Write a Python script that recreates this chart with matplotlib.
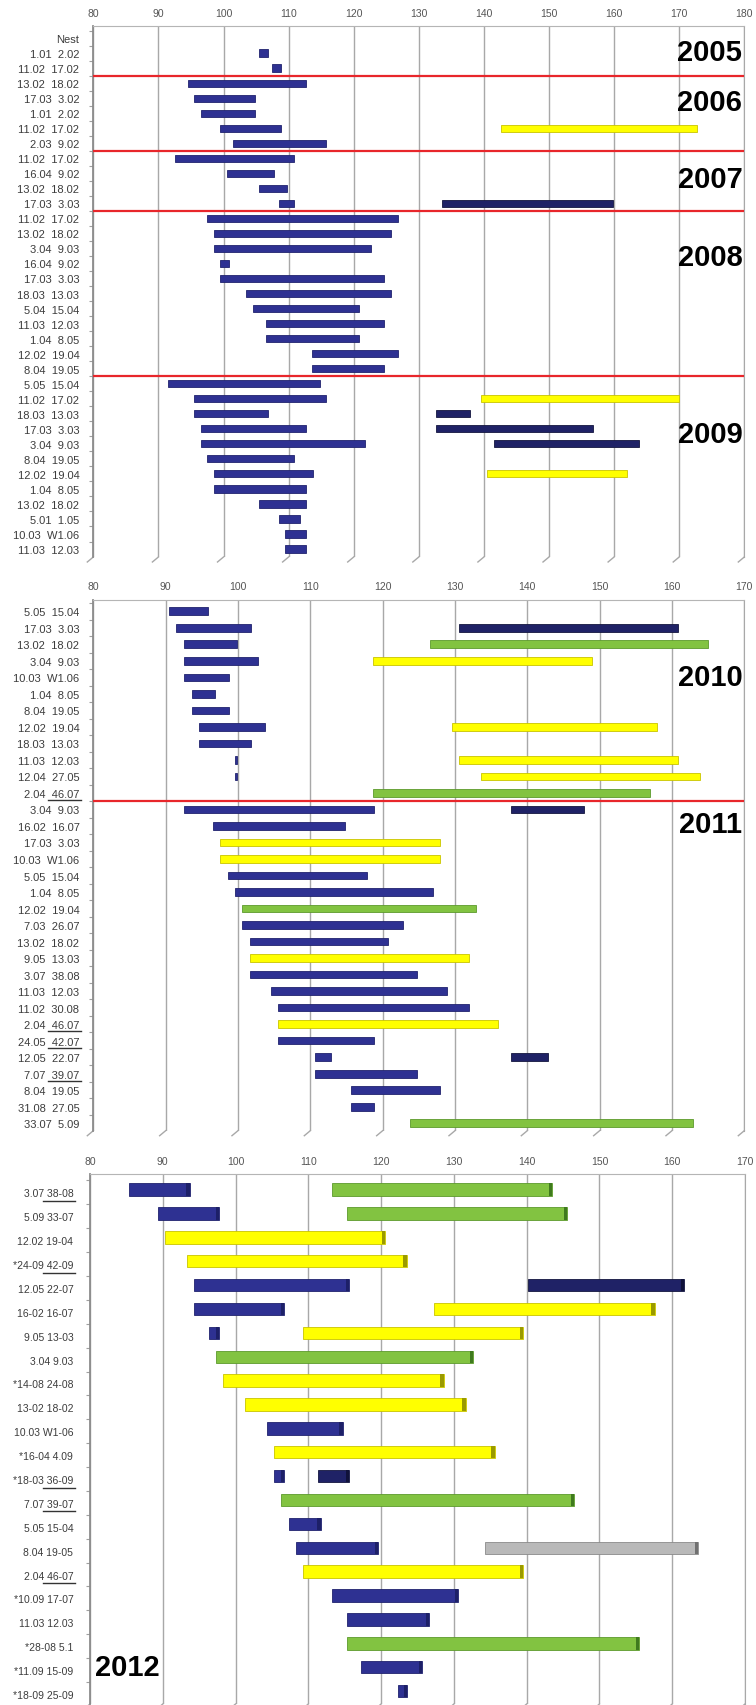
import matplotlib
matplotlib.use('agg')
import matplotlib.pyplot as plt
from matplotlib.transforms import blended_transform_factory

plt.rcParams['font.family'] = ['Liberation Sans', 'DejaVu Sans']

# ---- 2005-2009 ----
p1_labels = ['Nest', '1.01  2.02', '11.02  17.02', '13.02  18.02', '17.03  3.02', '1.01  2.02',
             '11.02  17.02', '2.03  9.02', '11.02  17.02', '16.04  9.02', '13.02  18.02', '17.03  3.03',
             '11.02  17.02', '13.02  18.02', '3.04  9.03', '16.04  9.02', '17.03  3.03', '18.03  13.03',
             '5.04  15.04', '11.03  12.03', '1.04  8.05', '12.02  19.04', '8.04  19.05', '5.05  15.04',
             '11.02  17.02', '18.03  13.03', '17.03  3.03', '3.04  9.03', '8.04  19.05', '12.02  19.04',
             '1.04  8.05', '13.02  18.02', '5.01  1.05', '10.03  W1.06', '11.03  12.03']
p1_bars = [
    [],
    [(105.5, 106.9, 'b')],
    [(107.5, 108.8, 'b')],
    [(94.5, 112.7, 'b')],
    [(95.5, 104.8, 'b')],
    [(96.5, 104.8, 'b')],
    [(99.5, 108.8, 'b'), (142.7, 172.8, 'y')],
    [(101.5, 115.8, 'b')],
    [(92.5, 110.8, 'b')],
    [(100.5, 107.8, 'b')],
    [(105.5, 109.7, 'b')],
    [(108.5, 110.8, 'b'), (133.6, 159.8, 'n')],
    [(97.5, 126.8, 'b')],
    [(98.5, 125.8, 'b')],
    [(98.5, 122.7, 'b')],
    [(99.5, 100.8, 'b')],
    [(99.5, 124.7, 'b')],
    [(103.5, 125.8, 'b')],
    [(104.5, 120.8, 'b')],
    [(106.5, 124.7, 'b')],
    [(106.5, 120.8, 'b')],
    [(113.6, 126.8, 'b')],
    [(113.6, 124.7, 'b')],
    [(91.5, 114.8, 'b')],
    [(95.5, 115.8, 'b'), (139.6, 169.9, 'y')],
    [(95.5, 106.8, 'b'), (132.6, 137.8, 'n')],
    [(96.5, 112.7, 'b'), (132.6, 156.8, 'n')],
    [(96.5, 121.8, 'b'), (141.6, 163.8, 'n')],
    [(97.5, 110.8, 'b')],
    [(98.5, 113.7, 'b'), (140.5, 162.0, 'y')],
    [(98.5, 112.7, 'b')],
    [(105.5, 112.7, 'b')],
    [(108.5, 111.8, 'b')],
    [(109.5, 112.7, 'b')],
    [(109.5, 112.7, 'b')],
]
p1_breaks = [3.5, 8.5, 12.5, 23.5]
p1_years = ['2005', '2006', '2007', '2008', '2009']

# ---- 2010-2011 ----
p2_labels = ['5.05  15.04', '17.03  3.03', '13.02  18.02', '3.04  9.03', '10.03  W1.06', '1.04  8.05',
             '8.04  19.05', '12.02  19.04', '18.03  13.03', '11.03  12.03', '12.04  27.05', '2.04  46.07',
             '3.04  9.03', '16.02  16.07', '17.03  3.03', '10.03  W1.06', '5.05  15.04', '1.04  8.05',
             '12.02  19.04', '7.03  26.07', '13.02  18.02', '9.05  13.03', '3.07  38.08', '11.03  12.03',
             '11.02  30.08', '2.04  46.07', '24.05  42.07', '12.05  22.07', '7.07  39.07', '8.04  19.05',
             '31.08  27.05', '33.07  5.09']
p2_bars = [
    [(90.5, 95.8, 'b')],
    [(91.5, 101.8, 'b'), (130.6, 160.9, 'n')],
    [(92.6, 99.8, 'b'), (126.6, 165.0, 'g')],
    [(92.6, 102.8, 'b'), (118.6, 148.9, 'y')],
    [(92.6, 98.8, 'b')],
    [(93.6, 96.8, 'b')],
    [(93.6, 98.8, 'b')],
    [(94.6, 103.8, 'b'), (129.6, 157.9, 'y')],
    [(94.6, 101.8, 'b')],
    [(99.6, 99.9, 'b'), (130.6, 160.9, 'y')],
    [(99.6, 99.9, 'b'), (133.6, 163.9, 'y')],
    [(118.6, 156.9, 'g')],
    [(92.6, 118.8, 'b'), (137.7, 147.9, 'n')],
    [(96.5, 114.8, 'b')],
    [(97.5, 127.9, 'y')],
    [(97.5, 127.9, 'y')],
    [(98.6, 117.8, 'b')],
    [(99.6, 126.9, 'b')],
    [(100.6, 132.9, 'g')],
    [(100.6, 122.8, 'b')],
    [(101.6, 120.8, 'b')],
    [(101.6, 131.9, 'y')],
    [(101.6, 124.8, 'b')],
    [(104.6, 128.9, 'b')],
    [(105.6, 131.9, 'b')],
    [(105.6, 135.9, 'y')],
    [(105.6, 118.8, 'b')],
    [(110.6, 112.8, 'b'), (137.7, 142.9, 'n')],
    [(110.6, 124.8, 'b')],
    [(115.6, 127.9, 'b')],
    [(115.6, 118.8, 'b')],
    [(123.8, 162.9, 'g')],
]
p2_breaks = [12.5]
p2_years = ['2010', '2011']
p2_underlined = [12, 26, 27, 29]

# ---- 2012 ----
p3_labels = ['3.07 38-08', '5.09 33-07', '12.02 19-04', '*24-09 42-09', '12.05 22-07', '16-02 16-07',
             '9.05 13-03', '3.04 9.03', '*14-08 24-08', '13-02 18-02', '10.03 W1-06', '*16-04 4.09',
             '*18-03 36-09', '7.07 39-07', '5.05 15-04', '8.04 19-05', '2.04 46-07', '*10.09 17-07',
             '11.03 12.03', '*28-08 5.1', '*11.09 15-09', '*18-09 25-09']
p3_bars = [
    [(85.4, 93.7, 'b'), (113.3, 143.5, 'g')],
    [(89.3, 97.7, 'b'), (115.3, 145.6, 'g')],
    [(90.3, 120.6, 'y')],
    [(93.3, 123.5, 'y')],
    [(94.3, 115.6, 'b'), (140.2, 161.6, 'n')],
    [(94.3, 106.7, 'b'), (127.3, 157.6, 'y')],
    [(96.4, 97.7, 'b'), (109.3, 139.5, 'y')],
    [(97.3, 132.6, 'g')],
    [(98.3, 128.6, 'y')],
    [(101.3, 131.6, 'y')],
    [(104.3, 114.7, 'b')],
    [(105.3, 135.6, 'y')],
    [(105.3, 106.7, 'b'), (111.3, 115.6, 'n')],
    [(106.3, 146.5, 'g')],
    [(107.3, 111.7, 'b')],
    [(108.3, 119.6, 'b'), (134.3, 163.6, 's')],
    [(109.3, 139.5, 'y')],
    [(113.3, 130.6, 'b')],
    [(115.3, 126.6, 'b')],
    [(115.3, 155.5, 'g')],
    [(117.2, 125.6, 'b')],
    [(122.3, 123.6, 'b')],
]
p3_underlined = [1, 4, 13, 14, 17]

FILL = {'b': '#2e3192', 'n': '#1f2266', 'y': '#ffff00', 'g': '#82c341', 's': '#b9b9b9'}
EDGE = {'b': '#20236e', 'n': '#14163f', 'y': '#c9c400', 'g': '#5c9a2c', 's': '#8a8a8a'}
CAP = {'b': '#1d2068', 'n': '#10123a', 'y': '#9a9a00', 'g': '#3f7a1e', 's': '#707070'}

W, H, DPI = 756, 1706, 100
fig = plt.figure(figsize=(W / DPI, H / DPI), dpi=DPI)
fig.patch.set_facecolor('white')


def make_axes(left, right, top, bottom):
    return fig.add_axes([left / W, 1 - bottom / H, (right - left) / W, (bottom - top) / H])


def draw_panel(ax, labels, bars, xmax, ylim, bar_h, pad, y_shift=0.0, cap=False, label_size=8):
    n = len(labels)
    for i, segs in enumerate(bars, start=1):
        for lo, hi, kind in segs:
            ax.barh(i + y_shift, hi - lo, left=lo, height=bar_h, color=FILL[kind],
                    edgecolor=EDGE[kind], linewidth=0.6, zorder=3)
            if cap:
                ax.barh(i + y_shift, 0.45, left=hi - 0.45, height=bar_h, color=CAP[kind],
                        linewidth=0, zorder=4)
    ax.set_xlim(80, xmax)
    ax.set_ylim(*ylim)
    ax.set_xticks(range(80, xmax + 1, 10))
    ax.xaxis.tick_top()
    ax.tick_params(axis='x', length=0, pad=6, labelsize=7.5, labelcolor='#555555')
    ax.set_yticks(range(1, n + 1))
    ax.set_yticklabels(labels)
    ax.set_yticks([k + 0.5 for k in range(n)], minor=True)
    ax.tick_params(axis='y', which='major', length=0, pad=pad, labelsize=label_size,
                   labelcolor='#3c3c3c')
    ax.tick_params(axis='y', which='minor', length=3, color='#a0a0a0', width=0.8)
    ax.grid(axis='x', color='#a8a8a8', linewidth=1.0)
    ax.set_axisbelow(True)
    ax.spines['bottom'].set_visible(False)
    ax.spines['top'].set_color('#b5b5b5')
    ax.spines['right'].set_color('#a8a8a8')
    ax.spines['left'].set_color('#8c8c8c')
    ax.spines['left'].set_linewidth(1.3)
    # little slanted feet under the gridlines
    bbox = ax.get_position()
    ppu = bbox.width * W / (xmax - 80)
    dy = 5 / (bbox.height * H)
    for v in range(80, xmax + 1, 10):
        ax.plot([v, v - 6 / ppu], [0, -dy], transform=ax.get_xaxis_transform(),
                color='#a8a8a8', linewidth=1, clip_on=False)


def year_label(ax, text, y, x=0.997, ha='right'):
    trans = blended_transform_factory(ax.transAxes, ax.transData)
    ax.text(x, y, text, transform=trans, ha=ha, va='center', fontsize=21,
            fontweight='bold', color='black', zorder=6)


def underline(ax, rows, x0, x1, dy):
    trans = blended_transform_factory(fig.dpi_scale_trans, ax.transData)
    for r in rows:
        ax.plot([x0 / DPI, x1 / DPI], [r + dy, r + dy], transform=trans, color='#333333',
                linewidth=1.0, clip_on=False)


# top panel, 2005-2009
ax1 = make_axes(93.3, 744.3, 27, 558)
draw_panel(ax1, p1_labels, p1_bars, 180, (35.53, 0.2), 0.48, pad=10)
for b in p1_breaks:
    ax1.axhline(b, color='#e8262b', linewidth=1.6, zorder=5)
for text, y in zip(p1_years, [1.95, 5.25, 10.4, 15.6, 27.35]):
    year_label(ax1, text, y)

# middle panel, 2010-2011
ax2 = make_axes(93.3, 744.3, 600.7, 1131.7)
draw_panel(ax2, p2_labels, p2_bars, 170, (32.45, 0.3), 0.46, pad=10)
for b in p2_breaks:
    ax2.axhline(b, color='#e8262b', linewidth=1.6, zorder=5)
for text, y in zip(p2_years, [4.97, 13.86]):
    year_label(ax2, text, y)
underline(ax2, p2_underlined, 48, 81, 0.42)

# bottom panel, 2012
ax3 = make_axes(90, 745, 1175, 1705)
draw_panel(ax3, p3_labels, p3_bars, 170, (22.42, 0.23), 0.52, pad=12, y_shift=-0.12,
           cap=True, label_size=7.5)
year_label(ax3, '2012', 20.86, x=0.008, ha='left')
underline(ax3, p3_underlined, 43, 75, 0.36)

fig.savefig('out.png', dpi=DPI, facecolor='white')
